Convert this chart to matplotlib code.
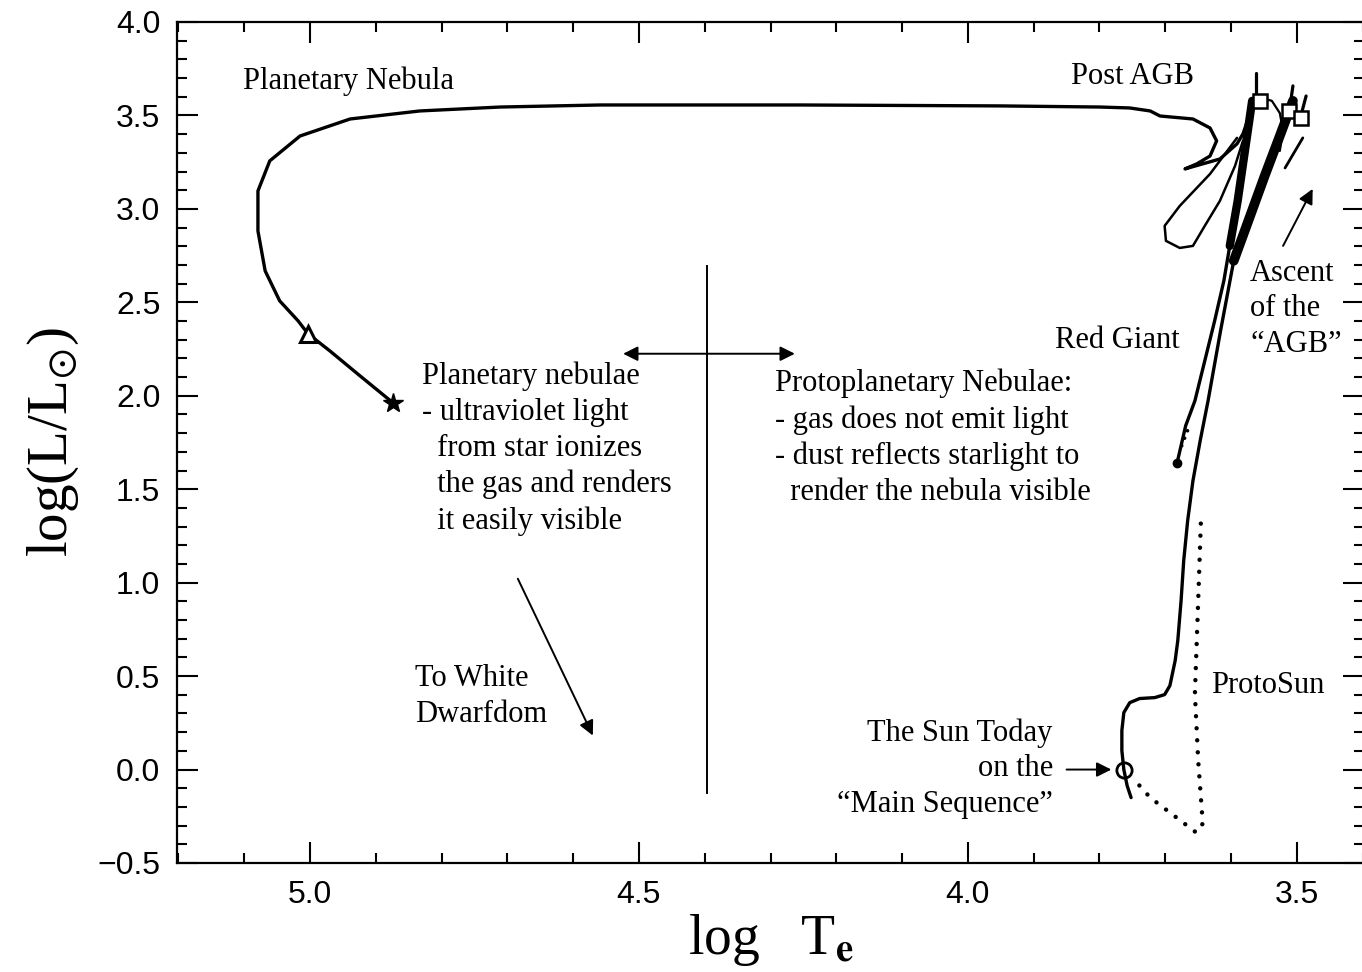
import matplotlib
matplotlib.use("Agg")
import matplotlib.pyplot as plt
from matplotlib.ticker import MultipleLocator, FuncFormatter

plt.rcParams["font.family"] = "Liberation Sans"
plt.rcParams["mathtext.fontset"] = "stix"

SERIF = "Liberation Serif"

# Evolution of a 1 solar mass star, (log Te, log L/Lsun)

# contraction of the proto-Sun down to the main sequence (dotted)
protosun_logt = [3.646, 3.650, 3.655, 3.650, 3.643, 3.653, 3.693, 3.723, 3.746]
protosun_logl = [1.316, 0.904, 0.406, 0.048, -0.289, -0.337, -0.230, -0.150, -0.059]

# main sequence, subgiant branch and red giant branch up to the tip
rgb_logt = [3.752, 3.758, 3.763, 3.766, 3.766, 3.763, 3.754, 3.739, 3.716, 3.701,
            3.693, 3.685, 3.681, 3.676, 3.672, 3.666, 3.658, 3.647, 3.635, 3.616,
            3.596, 3.571, 3.549, 3.526, 3.506]
rgb_logl = [-0.150, -0.086, 0.000, 0.102, 0.209, 0.305, 0.358, 0.380, 0.385, 0.401,
            0.449, 0.583, 0.690, 0.904, 1.118, 1.332, 1.545, 1.759, 1.973, 2.348,
            2.722, 2.963, 3.176, 3.390, 3.578]

# helium flash debris near the start of the horizontal branch
flash_logt = [3.675, 3.665]
flash_logl = [1.733, 1.824]

# horizontal branch and asymptotic giant branch
agb_logt = [3.682, 3.669, 3.655, 3.640, 3.625, 3.611, 3.602, 3.590, 3.579, 3.568]
agb_logl = [1.642, 1.840, 1.973, 2.187, 2.401, 2.615, 2.802, 3.043, 3.310, 3.578]

# thermal pulse loop off the AGB
loop_logt = [3.591, 3.632, 3.678, 3.701, 3.699, 3.678, 3.658, 3.640, 3.617, 3.594, 3.582]
loop_logl = [3.380, 3.187, 3.016, 2.909, 2.829, 2.791, 2.802, 2.909, 3.043, 3.230, 3.364]

# short pulse excursions at the top of the AGB
spike_logt = [[3.562, 3.562], [3.506, 3.510], [3.486, 3.492]]
spike_logl = [[3.727, 3.578], [3.658, 3.561], [3.604, 3.524]]
arc_logt = [3.553, 3.538, 3.526, 3.521, 3.526]
arc_logl = [3.594, 3.578, 3.513, 3.417, 3.310]
tail_logt = [3.491, 3.518]
tail_logl = [3.380, 3.219]

# post-AGB crossing to the planetary nebula nucleus
pagb_logt = [3.571, 3.582, 3.591, 3.617, 3.670, 3.652, 3.632, 3.622, 3.632, 3.658,
             3.708, 3.723, 3.754, 3.799, 3.951, 4.255, 4.559, 4.711, 4.833, 4.939,
             5.015, 5.061, 5.079, 5.079, 5.068, 5.046, 5.018, 5.003, 4.970, 4.924,
             4.874]
pagb_logl = [3.513, 3.401, 3.348, 3.267, 3.214, 3.241, 3.283, 3.364, 3.433, 3.481,
             3.497, 3.524, 3.540, 3.545, 3.551, 3.556, 3.556, 3.545, 3.524, 3.481,
             3.390, 3.257, 3.096, 2.882, 2.668, 2.508, 2.401, 2.332, 2.241, 2.107,
             1.963]

# markers
sun_logt, sun_logl = 3.763, 0.0
pn_logt, pn_logl = 5.003, 2.332
wd_logt, wd_logl = 4.874, 1.963
box_logt = [3.556, 3.512, 3.494]
box_logl = [3.578, 3.524, 3.487]

# boundary between protoplanetary and planetary nebulae
split_logt = 4.397
split_logl = [-0.123, 2.695]
split_arrow_logl = 2.225
split_arrow_logt = [4.524, 4.263]

fig = plt.figure(figsize=(13.62, 9.72), dpi=100)
ax = fig.add_axes([0.12996, 0.11214, 0.87151, 0.86523])

line = dict(color="k", solid_capstyle="round", solid_joinstyle="round")

ax.plot(protosun_logt, protosun_logl, color="k", lw=3.2,
        linestyle=(0, (0.01, 2.7)), dash_capstyle="round")
ax.plot(rgb_logt, rgb_logl, lw=2.4, **line)
ax.plot(rgb_logt[-5:], rgb_logl[-5:], lw=7, **line)
ax.plot(flash_logt, flash_logl, color="k", lw=2.6,
        linestyle=(0, (0.01, 2.2)), dash_capstyle="round")
ax.plot(agb_logt, agb_logl, lw=2.4, **line)
ax.plot(agb_logt[0], agb_logl[0], "o", color="k", ms=6)
ax.plot(agb_logt[-4:], agb_logl[-4:], lw=6, **line)
ax.plot(loop_logt, loop_logl, lw=1.8, **line)
for st, sl in zip(spike_logt, spike_logl):
    ax.plot(st, sl, lw=2.3, **line)
ax.plot(arc_logt, arc_logl, lw=1.6, **line)
ax.plot(tail_logt, tail_logl, lw=2.0, **line)
ax.plot(pagb_logt, pagb_logl, lw=2.4, **line)

ax.plot(box_logt, box_logl, "s", ms=10, mfc="white", mec="k", mew=1.8)
ax.plot(sun_logt, sun_logl, "o", ms=11, mfc="none", mec="k", mew=2.0)
ax.plot(pn_logt, pn_logl, "^", ms=12, mfc="white", mec="k", mew=2.2)
ax.plot(wd_logt, wd_logl, "*", ms=15, color="k")

# nebula boundary and the two arrows off it
ax.plot([split_logt, split_logt], split_logl, color="k", lw=1.4)
arrow = dict(arrowstyle="-|>", color="k", lw=1.4, mutation_scale=22, shrinkA=0, shrinkB=0)
for end in split_arrow_logt:
    ax.annotate("", xy=(end, split_arrow_logl), xytext=(split_logt, split_arrow_logl),
                arrowprops=arrow)

ax.annotate("", xy=(4.570, 0.182), xytext=(4.684, 1.021), arrowprops=arrow)
ax.annotate("", xy=(3.476, 3.107), xytext=(3.521, 2.802), arrowprops=arrow)
ax.annotate("", xy=(3.782, 0.0), xytext=(3.850, 0.0), arrowprops=arrow)

txt = dict(family=SERIF, fontsize=22, va="center", linespacing=1.31)
ax.text(5.102, 3.684, "Planetary Nebula", ha="left", **txt)
ax.text(3.843, 3.706, "Post AGB", ha="left", **txt)
ax.text(3.571, 2.465, "Ascent\nof the\n\u201cAGB\u201d", ha="left", **txt)
ax.text(3.868, 2.294, "Red Giant", ha="left", **txt)
ax.text(4.830, 1.717, "Planetary nebulae\n- ultraviolet light\n  from star ionizes\n"
        "  the gas and renders\n  it easily visible", ha="left", **txt)
ax.text(4.293, 1.775, "Protoplanetary Nebulae:\n- gas does not emit light\n"
        "- dust reflects starlight to\n  render the nebula visible", ha="left", **txt)
ax.text(4.840, 0.393, "To White\nDwarfdom", ha="left", **txt)
ax.text(3.631, 0.449, "ProtoSun", ha="left", **txt)
ax.text(3.871, 0.005, "The Sun Today\non the\n\u201cMain Sequence\u201d", ha="right",
        multialignment="right", **txt)

ax.set_xlim(5.202, 3.398)
ax.set_ylim(-0.5, 4.0)
ax.xaxis.set_major_locator(MultipleLocator(0.5))
ax.xaxis.set_minor_locator(MultipleLocator(0.1))
ax.yaxis.set_major_locator(MultipleLocator(0.5))
ax.yaxis.set_minor_locator(MultipleLocator(0.1))
fmt = FuncFormatter(lambda v, pos: f"{v:.1f}".replace("-", "\u2212"))
ax.xaxis.set_major_formatter(fmt)
ax.yaxis.set_major_formatter(fmt)
ax.tick_params(which="both", direction="in", top=True, right=True, width=1.5)
ax.tick_params(which="major", length=15, pad=12, labelsize=23)
ax.tick_params(which="minor", length=7.5)
for sp in ax.spines.values():
    sp.set_linewidth(1.6)

ax.set_xlabel(r"log   T$_{\mathbf{e}}$", family=SERIF, fontsize=40, labelpad=2)
ax.set_ylabel(r"log(L/L$_{\odot}$)", family=SERIF, fontsize=41, labelpad=12)

fig.savefig("out.png", dpi=100)
